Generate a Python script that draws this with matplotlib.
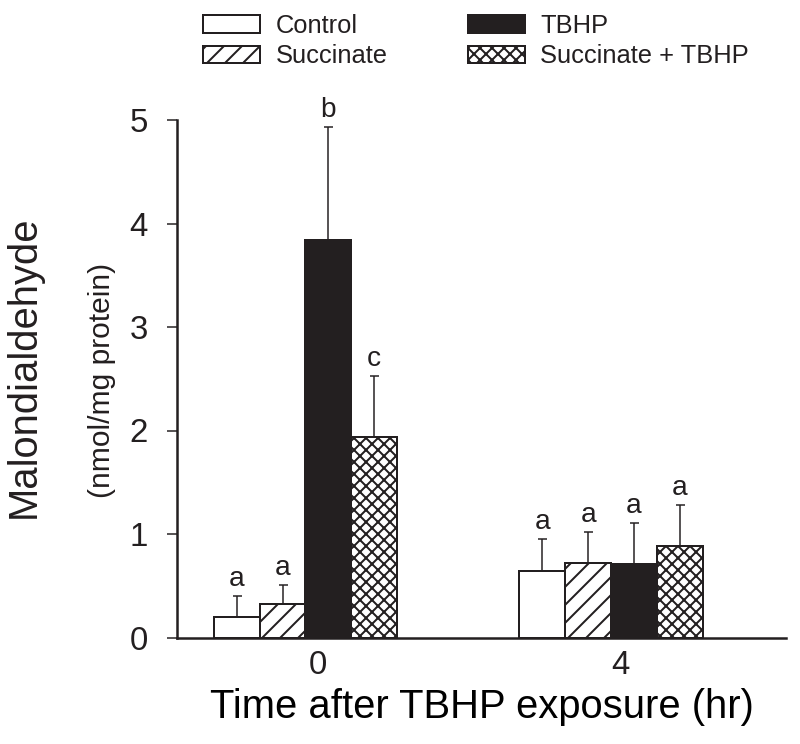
import matplotlib
matplotlib.use("Agg")
import matplotlib.pyplot as plt
import matplotlib.backend_bases as bb
import numpy as np

# ---- data ----
times = ["0", "4"]
treatments = ["Control", "Succinate", "TBHP", "Succinate + TBHP"]
control_mean = [0.20, 0.645]
control_sd = [0.20, 0.305]
succinate_mean = [0.32, 0.72]
succinate_sd = [0.19, 0.30]
tbhp_mean = [3.84, 0.71]
tbhp_sd = [1.09, 0.40]
succ_tbhp_mean = [1.94, 0.88]
succ_tbhp_sd = [0.59, 0.40]
letters_control = ["a", "a"]
letters_succinate = ["a", "a"]
letters_tbhp = ["b", "a"]
letters_succ_tbhp = ["c", "a"]

# hatch density (style only): '//' -> 8 lines, 'xxx' -> 12 lines per tile
HATCH_DENSITY = 4.0
_orig_ghp = bb.GraphicsContextBase.get_hatch_path
def _ghp(self, density=6.0):
    return _orig_ghp(self, density=HATCH_DENSITY)
bb.GraphicsContextBase.get_hatch_path = _ghp

INK = "#231f20"
plt.rcParams["font.family"] = ["Liberation Sans", "DejaVu Sans"]
plt.rcParams["hatch.linewidth"] = 2.0
plt.rcParams["hatch.color"] = INK
plt.rcParams["text.color"] = INK

DPI = 72
fig = plt.figure(figsize=(800 / DPI, 744 / DPI), dpi=DPI)
ax = fig.add_axes([177 / 800, 106.5 / 744, 609 / 800, 517.5 / 744])

means = [control_mean, succinate_mean, tbhp_mean, succ_tbhp_mean]
sds = [control_sd, succinate_sd, tbhp_sd, succ_tbhp_sd]
letters = [letters_control, letters_succinate, letters_tbhp, letters_succ_tbhp]
faces = ["white", "white", INK, "white"]
hatches = [None, "//", None, "xxx"]

x = np.arange(len(times))
w = 0.15
offsets = (np.arange(4) - 1.5) * w

for i, name in enumerate(treatments):
    xp = x + offsets[i]
    ax.bar(xp, means[i], width=w, color=faces[i], edgecolor=INK,
           linewidth=2, hatch=hatches[i], label=name, zorder=2)
    ax.errorbar(xp, means[i], yerr=[np.zeros(len(xp)), sds[i]],
                fmt="none", ecolor=INK, elinewidth=1.5, capsize=4.5,
                capthick=1.5, zorder=1)
    for xi, m, s, lab in zip(xp, means[i], sds[i], letters[i]):
        ax.annotate(lab, (xi, m + s), xytext=(0, 10), textcoords="offset points",
                    ha="center", va="baseline", fontsize=28, color=INK)

ax.set_xlim(-0.4206, 1.5729)
ax.set_ylim(0, 5)
ax.set_yticks([0, 1, 2, 3, 4, 5])
ax.set_xticks(x + np.array([0.04, 0.03]))
ax.set_xticklabels(times)
ax.tick_params(axis="y", direction="out", length=10, width=1.5, pad=19,
               labelsize=33, colors=INK)
ax.tick_params(axis="x", length=0, pad=13, labelsize=33, colors=INK)
for sp in ["top", "right"]:
    ax.spines[sp].set_visible(False)
ax.spines["left"].set_linewidth(2.5)
ax.spines["bottom"].set_linewidth(2.5)
ax.spines["left"].set_color(INK)
ax.spines["bottom"].set_color(INK)

ax.set_xlabel("Time after TBHP exposure (hr)", fontsize=40, labelpad=7)
fig.text(24 / 800, 1 - 367 / 744, "Malondialdehyde", rotation=90,
         ha="center", va="center", fontsize=40)
fig.text(102 / 800, 1 - 380 / 744, "(nmol/mg protein)", rotation=90,
         ha="center", va="center", fontsize=30)

leg = fig.legend(loc="upper left", bbox_to_anchor=(203 / 800, 1 - 14 / 744),
                 ncol=2, frameon=False, fontsize=25.5, handlelength=2.24,
                 handleheight=0.67, handletextpad=0.6, columnspacing=3.15,
                 labelspacing=0.25, borderpad=0, borderaxespad=0)

fig.savefig("out.png", dpi=DPI)
